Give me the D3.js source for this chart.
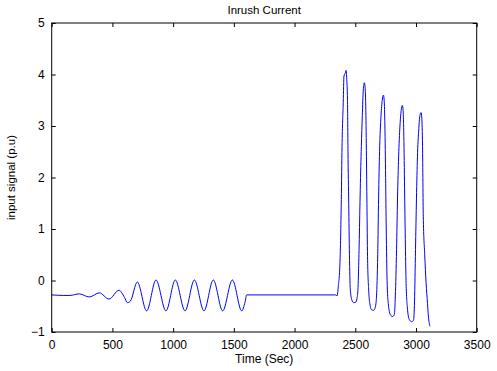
<!DOCTYPE html>
<html>
<head>
<meta charset="utf-8">
<script src="https://cdn.jsdelivr.net/npm/d3@7"></script>
<style>
  body { margin: 0; background: #fff; }
  text { font-family: "Liberation Sans", Arial, sans-serif; fill: #000; }
</style>
</head>
<body>
<script>
var width = 497,
    height = 371;

// time axis (sec) and signal (p.u)
var timeVals = [
  0, 100, 150, 227, 310, 392, 472, 554, 600, 623, 648,
  705, 782, 859, 941, 1018, 1098, 1175, 1254, 1331, 1408, 1488, 1565, 1592, 1606, 1650,
  2340, 2350, 2360, 2374, 2385, 2391, 2401, 2407, 2418, 2424, 2430, 2436, 2440, 2446, 2452, 2459, 2472, 2487, 2505, 2514, 2522,
  2533, 2541, 2550, 2558, 2566, 2575, 2581, 2587, 2592, 2596, 2601, 2610, 2620, 2635, 2650, 2665, 2675,
  2685, 2692, 2700, 2712, 2722, 2732, 2738, 2744, 2750, 2755, 2762, 2772, 2790, 2808, 2822, 2830,
  2840, 2848, 2857, 2868, 2878, 2888, 2894, 2900, 2906, 2912, 2918, 2928, 2945, 2965, 2980, 2988,
  2996, 3004, 3012, 3022, 3032, 3042, 3048, 3054, 3060, 3072, 3083, 3095, 3102, 3115
];
var signalVals = [
  -0.28, -0.29, -0.29, -0.26, -0.32, -0.24, -0.36, -0.19, -0.33, -0.43, -0.40,
  -0.03, -0.59, 0.01, -0.59, 0.01, -0.59, 0.01, -0.59, 0.01, -0.59, 0.01, -0.59, -0.42, -0.28, -0.28,
  -0.28, -0.30, -0.12, 0.35, 1.57, 2.6, 3.46, 3.97, 4.03, 4.08, 3.9, 3.5, 2.5, 1.5, 0.5, -0.17, -0.38, -0.43, -0.42, -0.35, -0.17,
  0.8, 1.77, 2.6, 3.2, 3.7, 3.84, 3.75, 3.3, 2.4, 1.5, 0.47, -0.17, -0.45, -0.57, -0.58, -0.52, -0.3,
  0.5, 1.6, 2.5, 3.2, 3.5, 3.60, 3.5, 3.0, 2.0, 1.0, 0.0, -0.45, -0.67, -0.70, -0.66, -0.3,
  0.6, 1.6, 2.4, 3.0, 3.3, 3.40, 3.3, 2.8, 1.8, 0.8, 0.0, -0.5, -0.76, -0.80, -0.77, -0.4,
  0.6, 1.6, 2.4, 2.9, 3.2, 3.26, 3.15, 2.6, 1.25, 0.5, -0.04, -0.45, -0.69, -0.89
];

var xTicks = [0, 500, 1000, 1500, 2000, 2500, 3000, 3500];
var yTicks = [-1, 0, 1, 2, 3, 4, 5];

var margin = {left: 51.7, right: 20.3, top: 23, bottom: 39};

var svg = d3.select("body")
    .append("svg")
    .attr("width", width)
    .attr("height", height);

var x = d3.scaleLinear().domain([0, 3500]).range([margin.left, width - margin.right]);
var y = d3.scaleLinear().domain([-1, 5]).range([height - margin.bottom, margin.top]);

var pts = timeVals.map(function(t, i) { return [t, signalVals[i]]; });

// signal line
var line = d3.line()
    .x(function(d) { return x(d[0]); })
    .y(function(d) { return y(d[1]); })
    .curve(d3.curveMonotoneX);

svg.append("path")
    .datum(pts)
    .attr("d", line)
    .attr("fill", "none")
    .attr("stroke", "#0000ff")
    .attr("stroke-width", 1);

// axes, ticks pointing inward like matlab
var tickLen = 4;
var fmt = d3.format("d");
var bottomAxis = d3.axisBottom(x).tickValues(xTicks).tickFormat(fmt).tickSizeInner(-tickLen).tickSizeOuter(0).tickPadding(8);
var topAxis = d3.axisTop(x).tickValues(xTicks).tickSizeInner(-tickLen).tickSizeOuter(0).tickFormat("");
var leftAxis = d3.axisLeft(y).tickValues(yTicks).tickFormat(fmt).tickSizeInner(-tickLen).tickSizeOuter(0).tickPadding(7);
var rightAxis = d3.axisRight(y).tickValues(yTicks).tickSizeInner(-tickLen).tickSizeOuter(0).tickFormat("");

function styleAxis(g) {
  g.select(".domain").remove();
  g.selectAll("line").attr("stroke", "#000");
  g.selectAll("text").attr("font-size", 12).attr("fill", "#000")
    .style("font-family", "Liberation Sans, Arial, sans-serif");
}

svg.append("g").attr("transform", "translate(0," + y(-1) + ")").call(bottomAxis).call(styleAxis);
svg.append("g").attr("transform", "translate(0," + y(5) + ")").call(topAxis).call(styleAxis);
svg.append("g").attr("transform", "translate(" + x(0) + ",0)").call(leftAxis).call(styleAxis);
svg.append("g").attr("transform", "translate(" + x(3500) + ",0)").call(rightAxis).call(styleAxis);

// box
svg.append("rect")
    .attr("x", x(0))
    .attr("y", y(5))
    .attr("width", x(3500) - x(0))
    .attr("height", y(-1) - y(5))
    .attr("fill", "none")
    .attr("stroke", "#000")
    .attr("stroke-width", 1);

// labels
svg.append("text")
    .attr("x", (x(0) + x(3500)) / 2)
    .attr("y", 14)
    .attr("text-anchor", "middle")
    .attr("font-size", 11.5)
    .text("Inrush Current");

svg.append("text")
    .attr("x", (x(0) + x(3500)) / 2)
    .attr("y", 363)
    .attr("text-anchor", "middle")
    .attr("font-size", 12)
    .text("Time (Sec)");

svg.append("text")
    .attr("transform", "translate(15," + ((y(5) + y(-1)) / 2) + ") rotate(-90)")
    .attr("text-anchor", "middle")
    .attr("font-size", 11.5)
    .text("input signal (p.u)");
</script>
</body>
</html>
